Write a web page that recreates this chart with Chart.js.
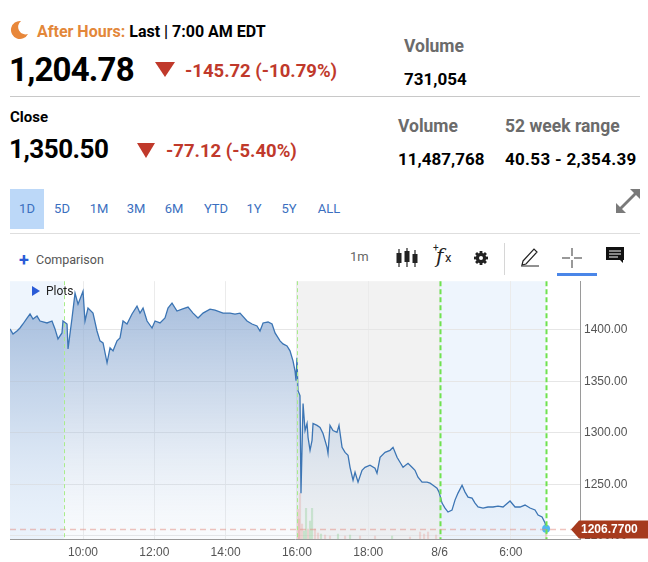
<!DOCTYPE html>
<html>
<head>
<meta charset="utf-8">
<script src="https://cdn.jsdelivr.net/npm/chart.js@4.4.1/dist/chart.umd.min.js"></script>
<style>
  body { margin:0; width:648px; height:562px; position:relative; background:#fff; overflow:hidden;
         font-family: Roboto, "Liberation Sans", sans-serif; }
  .a { position:absolute; white-space:nowrap; }
  .b { font-weight:700; }
  .grey { color:#6b6b6b; }
  .red { color:#c0392b; }
  .rng { position:absolute; top:201px; font-size:13px; color:#3b6fc0; transform:translateX(-50%); }
</style>
</head>
<body>

<!-- header -->
<svg class="a" style="left:9px;top:20px" width="20" height="20" viewBox="0 0 20 20">
  <path d="M12 1 A9 9 0 1 0 19 14 A7.5 7.5 0 0 1 12 1 Z" fill="#e8873a"/>
</svg>
<div class="a b" style="left:37px;top:22px;font-size:16px;line-height:20px"><span style="color:#e3873a">After Hours:</span> Last | 7:00 AM EDT</div>
<div class="a b" style="left:9px;top:50px;font-size:33px;letter-spacing:-0.8px;line-height:40px">1,204.78</div>
<svg class="a" style="left:155px;top:62px" width="20" height="15"><polygon points="0,0 20,0 10,15" fill="#c0392b"/></svg>
<div class="a b red" style="left:185px;top:60px;font-size:18.5px;line-height:22px">-145.72 (-10.79%)</div>
<div class="a b grey" style="left:404px;top:36px;font-size:17.5px;line-height:20px">Volume</div>
<div class="a b" style="left:404px;top:69px;font-size:17px;line-height:20px">731,054</div>
<div class="a" style="left:10px;top:96px;width:630px;height:1px;background:#c8c8c8"></div>
<div class="a b" style="left:10px;top:108px;font-size:15px;line-height:18px">Close</div>
<div class="a b" style="left:9px;top:134px;font-size:26px;line-height:30px;letter-spacing:-0.5px">1,350.50</div>
<svg class="a" style="left:137px;top:143px" width="18" height="15"><polygon points="0,0 18,0 9,15" fill="#c0392b"/></svg>
<div class="a b red" style="left:166px;top:140px;font-size:18.5px;line-height:22px">-77.12 (-5.40%)</div>
<div class="a b grey" style="left:398px;top:116px;font-size:17.5px;line-height:20px">Volume</div>
<div class="a b grey" style="left:505px;top:116px;font-size:17.5px;line-height:20px">52 week range</div>
<div class="a b" style="left:398px;top:149px;font-size:17px;line-height:20px">11,487,768</div>
<div class="a b" style="left:505px;top:149px;font-size:17px;line-height:20px;letter-spacing:0.3px">40.53 - 2,354.39</div>

<!-- range buttons -->
<div class="a" style="left:10px;top:189px;width:34px;height:40px;background:#bcd8f8"></div>
<div class="rng" style="left:27px">1D</div>
<div class="rng" style="left:62px">5D</div>
<div class="rng" style="left:99px">1M</div>
<div class="rng" style="left:136px">3M</div>
<div class="rng" style="left:174px">6M</div>
<div class="rng" style="left:216px">YTD</div>
<div class="rng" style="left:254px">1Y</div>
<div class="rng" style="left:289px">5Y</div>
<div class="rng" style="left:329px">ALL</div>
<svg class="a" style="left:615px;top:188px" width="26" height="26" viewBox="0 0 26 26">
  <polygon points="15,1 25,1 25,11 21,7 7,21 11,25 1,25 1,15 5,19 19,5" fill="#7a7a7a"/>
</svg>
<div class="a" style="left:10px;top:233px;width:630px;height:1px;background:#dedede"></div>

<!-- toolbar -->
<div class="a" style="left:19px;top:250px;font-size:18px;line-height:20px;color:#2a5bd7;font-weight:700">+</div>
<div class="a" style="left:36px;top:252px;font-size:12.5px;line-height:16px;color:#555">Comparison</div>
<div class="a" style="left:350px;top:249px;font-size:13px;line-height:16px;color:#666">1m</div>
<svg class="a" style="left:396px;top:247px" width="22" height="22" viewBox="0 0 22 22">
  <g stroke="#222" stroke-width="1.2"><line x1="3" y1="2" x2="3" y2="20"/><line x1="11" y1="1" x2="11" y2="20"/><line x1="19" y1="3" x2="19" y2="20"/></g>
  <g fill="#222"><rect x="0.5" y="6" width="5" height="10"/><rect x="8.5" y="4" width="5" height="11"/><rect x="16.5" y="7" width="5" height="9"/></g>
</svg>
<div class="a" style="left:436px;top:244px;font-family:'DejaVu Serif',serif;font-style:italic;font-size:20px;line-height:24px;color:#222">f</div>
<div class="a" style="left:433px;top:243px;font-size:10px;line-height:10px;color:#222">+</div>
<div class="a" style="left:445px;top:251px;font-size:13px;line-height:14px;color:#222">x</div>
<svg class="a" style="left:473px;top:250px" width="16" height="16" viewBox="0 0 16 16">
  <g fill="#222">
    <circle cx="8" cy="8" r="5.2"/>
    <rect x="6.6" y="1" width="2.8" height="14"/>
    <rect x="6.6" y="1" width="2.8" height="14" transform="rotate(45 8 8)"/>
    <rect x="6.6" y="1" width="2.8" height="14" transform="rotate(90 8 8)"/>
    <rect x="6.6" y="1" width="2.8" height="14" transform="rotate(135 8 8)"/>
  </g>
  <circle cx="8" cy="8" r="2" fill="#fff"/>
</svg>
<div class="a" style="left:504px;top:243px;width:1px;height:32px;background:#d6d6d6"></div>
<svg class="a" style="left:520px;top:247px" width="21" height="20" viewBox="0 0 21 20">
  <path d="M3 14 L14 2 L17 5 L6 17 L2 18 Z" fill="none" stroke="#222" stroke-width="1.2"/>
  <line x1="1" y1="19" x2="19" y2="19" stroke="#222" stroke-width="1"/>
</svg>
<svg class="a" style="left:562px;top:248px" width="20" height="20" viewBox="0 0 20 20">
  <g stroke="#555" stroke-width="1.2"><line x1="10" y1="0" x2="10" y2="8"/><line x1="10" y1="12" x2="10" y2="20"/><line x1="0" y1="10" x2="8" y2="10"/><line x1="12" y1="10" x2="20" y2="10"/></g>
</svg>
<div class="a" style="left:557px;top:273px;width:40px;height:3px;background:#4a86e8"></div>
<svg class="a" style="left:606px;top:247px" width="19" height="17" viewBox="0 0 19 17">
  <path d="M0 0 H18 V13 H17 V16 L14 13 H0 Z" fill="#111"/>
  <g stroke="#fff" stroke-width="1"><line x1="3" y1="4" x2="15" y2="4"/><line x1="3" y1="7" x2="15" y2="7"/><line x1="3" y1="10" x2="12" y2="10"/></g>
</svg>

<!-- chart -->
<div class="a" style="left:0;top:270px;width:648px;height:292px"><canvas id="chart"></canvas></div>
<svg class="a" style="left:32px;top:286px" width="8" height="10"><polygon points="0,0 8,5 0,10" fill="#2a5bd7"/></svg>
<div class="a" style="left:46px;top:283px;font-size:12px;line-height:16px;color:#222">Plots</div>

<script>
// x positions are in axis slots: 0 = 10:00, 1 = 12:00 ... 6 = 6:00 (8/6)
const tickLabels = ['10:00', '12:00', '14:00', '16:00', '18:00', '8/6', '6:00'];
const tickSlots = [0, 1, 2, 3, 4, 5, 6];
const yTicks = [1200, 1250, 1300, 1350, 1400];

// session edges: pre-market end 9:30, close 16:00, midnight, 7:00
const sessionEdges = [-0.27, 3, 5, 6.49];

const priceSlots = [
  -1.024, -0.982, -0.926, -0.884, -0.842, -0.785, -0.743, -0.701, -0.645, -0.603,
  -0.505, -0.435, -0.393, -0.351, -0.295, -0.281, -0.224, -0.210, -0.154, -0.112,
  -0.070, 0.000, 0.028, 0.070, 0.140, 0.196, 0.238, 0.281, 0.337, 0.379,
  0.421, 0.477, 0.519, 0.561, 0.617, 0.687, 0.757, 0.799, 0.842, 0.898,
  0.968, 1.010, 1.080, 1.150, 1.192, 1.248, 1.318, 1.389, 1.473, 1.543,
  1.613, 1.683, 1.781, 1.851, 1.964, 2.062, 2.132, 2.202, 2.300, 2.370,
  2.440, 2.482, 2.525, 2.595, 2.651, 2.693, 2.763, 2.805, 2.861, 2.903,
  2.945, 2.973, 2.987, 3.001, 3.015, 3.043, 3.057, 3.086, 3.114, 3.142,
  3.156, 3.184, 3.212, 3.226, 3.282, 3.324, 3.366, 3.422, 3.436, 3.464,
  3.506, 3.562, 3.590, 3.633, 3.675, 3.717, 3.745, 3.787, 3.815, 3.857,
  3.913, 3.955, 4.025, 4.095, 4.123, 4.166, 4.236, 4.306, 4.348, 4.404,
  4.446, 4.488, 4.558, 4.614, 4.656, 4.698, 4.755, 4.825, 4.867, 4.909,
  4.965, 4.993, 5.035, 5.077, 5.119, 5.175, 5.217, 5.259, 5.316, 5.358,
  5.400, 5.456, 5.498, 5.540, 5.610, 5.680, 5.750, 5.820, 5.891, 5.989,
  6.059, 6.129, 6.199, 6.269, 6.339, 6.382, 6.438, 6.480, 6.494
];
const prices = [
  1401.0, 1396.1, 1399.0, 1401.9, 1405.8, 1411.6, 1415.5, 1410.6, 1413.5, 1408.7,
  1406.8, 1408.7, 1401.0, 1391.3, 1397.1, 1408.7, 1405.8, 1381.6, 1411.6, 1435.8,
  1425.1, 1437.7, 1408.7, 1421.3, 1416.4, 1399.0, 1389.4, 1387.4, 1368.1, 1382.6,
  1379.7, 1389.4, 1392.3, 1408.7, 1405.8, 1415.5, 1423.2, 1416.4, 1421.3, 1408.7,
  1401.9, 1408.7, 1406.8, 1411.6, 1421.3, 1426.1, 1418.4, 1420.3, 1422.2, 1416.4,
  1411.6, 1416.4, 1420.3, 1419.3, 1416.4, 1416.4, 1415.5, 1416.4, 1408.7, 1405.8,
  1403.9, 1399.0, 1406.8, 1407.7, 1405.8, 1397.1, 1389.4, 1386.5, 1384.5, 1379.7,
  1370.0, 1360.3, 1350.7, 1372.9, 1341.0, 1336.2, 1241.4, 1328.4, 1302.3, 1309.1,
  1295.6, 1283.0, 1292.7, 1309.1, 1307.2, 1305.2, 1299.4, 1285.9, 1280.1, 1307.2,
  1302.3, 1300.4, 1307.2, 1285.9, 1281.0, 1278.1, 1266.5, 1254.0, 1261.7, 1252.0,
  1263.6, 1266.5, 1268.5, 1265.6, 1260.7, 1276.2, 1281.0, 1283.0, 1285.9, 1276.2,
  1271.4, 1266.5, 1270.4, 1266.5, 1263.6, 1256.9, 1252.0, 1252.0, 1251.1, 1249.1,
  1246.2, 1242.4, 1231.7, 1226.9, 1223.0, 1224.9, 1234.6, 1241.4, 1249.1, 1242.4,
  1237.5, 1236.6, 1231.7, 1227.9, 1226.9, 1227.9, 1227.9, 1228.8, 1227.9, 1233.7,
  1227.9, 1227.9, 1229.8, 1226.9, 1225.0, 1220.1, 1218.2, 1212.4, 1206.77
];

// volume (thousands of shares), only the after-hours bars are visible
const volSlots = [3.015, 3.029, 3.043, 3.072, 3.100, 3.128, 3.156, 3.184, 3.212, 3.254,
                  3.296, 3.338, 3.394, 3.464, 3.576, 3.675, 3.745, 3.885, 4.095, 4.334,
                  4.586, 4.727, 4.783, 4.839, 4.951, 6.494];
const volumes = [30, 20, 46, 15, 8, 31, 10, 18, 31, 10, 6, 5, 4, 3, 5, 3, 4, 3, 3, 3, 2, 7, 5, 7, 4, 10];
const volUp = [0, 0, 0, 0, 1, 1, 0, 1, 1, 0, 0, 1, 0, 0, 1, 0, 1, 0, 0, 1, 0, 0, 0, 0, 0, 0];

const lastPrice = 1206.77;

const sessionPlugin = {
  id: 'sessions',
  beforeDraw(chart) {
    const { ctx, chartArea: a } = chart;
    const x = chart.scales.x;
    const px = v => Math.min(a.right, Math.max(a.left, x.getPixelForValue(v)));
    const fills = [
      [x.min, sessionEdges[0], '#eef5fd'],
      [sessionEdges[1], sessionEdges[2], '#f2f2f2'],
      [sessionEdges[2], sessionEdges[3], '#eef5fd']
    ];
    ctx.save();
    fills.forEach(f => {
      ctx.fillStyle = f[2];
      ctx.fillRect(px(f[0]), a.top, px(f[1]) - px(f[0]), a.bottom - a.top);
    });
    ctx.restore();
  },
  afterDatasetsDraw(chart) {
    const { ctx, chartArea: a } = chart;
    const x = chart.scales.x;
    ctx.save();
    sessionEdges.forEach((v, i) => {
      const p = Math.round(x.getPixelForValue(v)) + 0.5;
      ctx.strokeStyle = i < 2 ? '#a9ec8c' : '#6fe24f';
      ctx.lineWidth = i < 2 ? 1 : 2;
      ctx.setLineDash(i < 2 ? [4, 3] : [5, 3]);
      ctx.beginPath();
      ctx.moveTo(p, a.top);
      ctx.lineTo(p, a.bottom);
      ctx.stroke();
    });
    ctx.restore();
  },
  afterDraw(chart) {
    const { ctx, chartArea: a } = chart;
    const y = Math.round(chart.scales.y.getPixelForValue(lastPrice)) + 0.5;
    ctx.save();
    ctx.strokeStyle = 'rgba(226,140,128,0.5)';
    ctx.lineWidth = 1.5;
    ctx.setLineDash([6, 4]);
    ctx.beginPath();
    ctx.moveTo(a.left, y);
    ctx.lineTo(a.right - 8, y);
    ctx.stroke();
    ctx.setLineDash([]);
    // price tag
    ctx.fillStyle = '#a63a1d';
    ctx.beginPath();
    ctx.moveTo(a.right - 9, y);
    ctx.lineTo(a.right - 1, y - 9);
    ctx.lineTo(chart.width, y - 9);
    ctx.lineTo(chart.width, y + 9);
    ctx.lineTo(a.right - 1, y + 9);
    ctx.closePath();
    ctx.fill();
    ctx.fillStyle = '#fff';
    ctx.font = 'bold 12px "Liberation Sans", Arial, sans-serif';
    ctx.textBaseline = 'middle';
    ctx.fillText(lastPrice.toFixed(4), a.right + 1, y + 0.5);
    ctx.restore();
  }
};

const lastIdx = prices.length - 1;

new Chart(document.getElementById('chart'), {
  type: 'line',
  data: {
    datasets: [
      {
        type: 'line',
        data: priceSlots.map((s, i) => ({ x: s, y: prices[i] })),
        borderColor: '#3c75b4',
        borderWidth: 1.3,
        tension: 0,
        fill: 'start',
        backgroundColor: (c) => {
          const area = c.chart.chartArea;
          if (!area) return 'rgba(150,178,214,0.5)';
          const g = c.chart.ctx.createLinearGradient(0, area.top, 0, area.bottom);
          g.addColorStop(0, 'rgba(135,166,208,0.8)');
          g.addColorStop(0.5, 'rgba(160,185,218,0.45)');
          g.addColorStop(1, 'rgba(215,228,242,0.15)');
          return g;
        },
        pointRadius: c => c.dataIndex === lastIdx ? 4 : 0,
        pointBackgroundColor: '#52b6f2',
        pointBorderWidth: 0,
        order: 1
      },
      {
        type: 'bar',
        yAxisID: 'vol',
        data: volSlots.map((s, i) => ({ x: s, y: volumes[i] })),
        backgroundColor: volUp.map(u => u ? 'rgba(120,200,120,0.35)' : 'rgba(235,125,110,0.28)'),
        barThickness: 1.5,
        grouped: false,
        order: 2
      }
    ]
  },
  options: {
    responsive: true,
    maintainAspectRatio: false,
    animation: false,
    events: [],
    layout: { padding: { left: 10, top: 1, right: 0, bottom: 0 } },
    plugins: { legend: { display: false }, tooltip: { enabled: false } },
    scales: {
      x: {
        type: 'linear',
        offset: false,
        min: -1.024,
        max: 6.97,
        afterBuildTicks: s => { s.ticks = tickSlots.map(v => ({ value: v })); },
        afterFit: s => { s.height = 23; },
        ticks: {
          callback: (v, i) => tickLabels[i],
          color: '#555',
          font: { family: '"Liberation Sans", Arial, sans-serif', size: 12 },
          maxRotation: 0,
          autoSkip: false,
          padding: 6
        },
        grid: { color: '#ebebeb', drawTicks: false, offset: false },
        border: { color: '#9a9a9a' }
      },
      y: {
        position: 'right',
        min: 1196.8,
        max: 1447.4,
        afterBuildTicks: s => { s.ticks = yTicks.map(v => ({ value: v })); },
        afterFit: s => { s.width = 68; },
        ticks: {
          callback: v => v.toFixed(2),
          color: '#555',
          font: { family: '"Liberation Sans", Arial, sans-serif', size: 12 },
          padding: 4
        },
        grid: { color: '#e6e6e6', drawTicks: false },
        border: { color: '#9a9a9a' }
      },
      vol: {
        display: false,
        min: 0,
        max: 260
      }
    }
  },
  plugins: [sessionPlugin]
});
</script>
</body>
</html>
